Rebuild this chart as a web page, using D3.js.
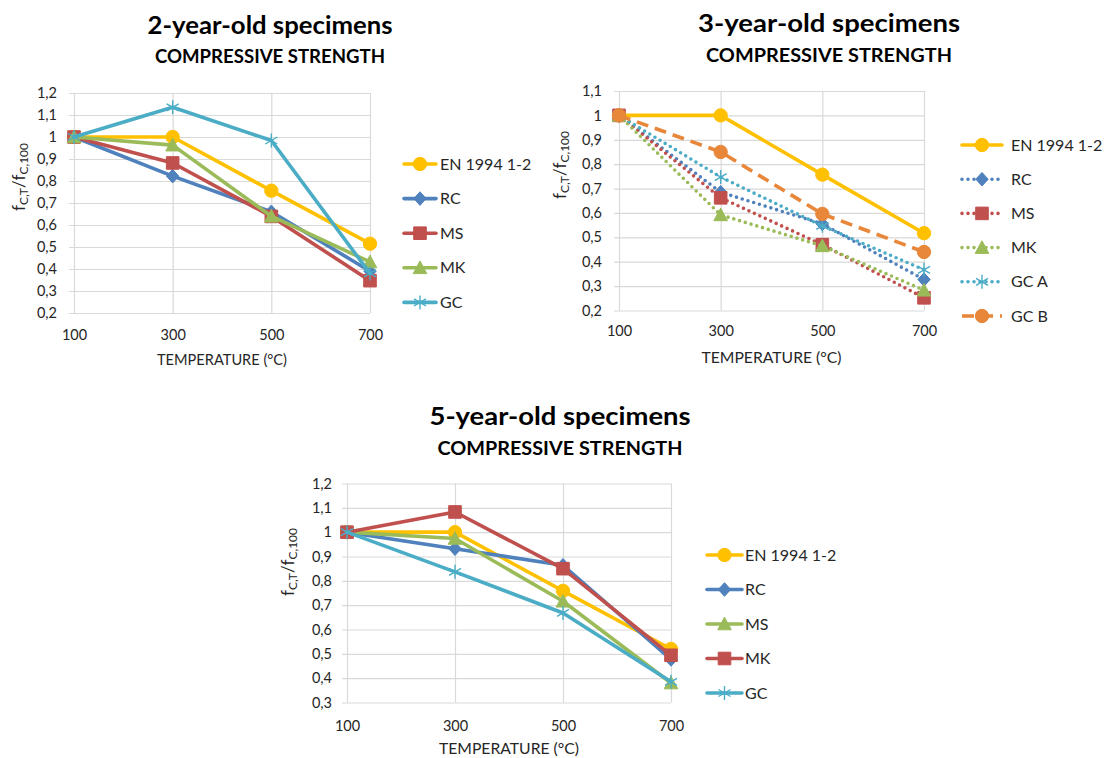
<!DOCTYPE html>
<html>
<head>
<meta charset="utf-8">
<script src="https://cdn.jsdelivr.net/npm/d3@7"></script>
<style>
  html, body { margin: 0; padding: 0; background: #fff; }
  svg { display: block; font-family: Lato, "Open Sans", sans-serif; }
</style>
</head>
<body>
<svg id="chart" width="1112" height="758"></svg>
<script>
// ---------------- DATA ----------------
const temperatures = [100, 300, 500, 700];

const ticks2y = [0.2, 0.3, 0.4, 0.5, 0.6, 0.7, 0.8, 0.9, 1.0, 1.1, 1.2];
const ticks3y = [0.2, 0.3, 0.4, 0.5, 0.6, 0.7, 0.8, 0.9, 1.0, 1.1];
const ticks5y = [0.3, 0.4, 0.5, 0.6, 0.7, 0.8, 0.9, 1.0, 1.1, 1.2];

// 2-year-old specimens
const y2_EN = [1, 1, 0.756, 0.515];
const y2_RC = [1, 0.822, 0.66, 0.39];
const y2_MS = [1, 0.882, 0.639, 0.347];
const y2_MK = [1, 0.963, 0.64, 0.432];
const y2_GC = [1, 1.135, 0.984, 0.38];

// 3-year-old specimens
const y3_EN = [1, 1, 0.757, 0.517];
const y3_RC = [1, 0.685, 0.555, 0.327];
const y3_MS = [1, 0.662, 0.47, 0.252];
const y3_MK = [1, 0.592, 0.465, 0.283];
const y3_GCA = [1, 0.747, 0.547, 0.367];
const y3_GCB = [1, 0.85, 0.596, 0.44];

// 5-year-old specimens
const y5_EN = [1, 1, 0.759, 0.52];
const y5_RC = [1, 0.932, 0.864, 0.477];
const y5_MS = [1, 0.974, 0.716, 0.38];
const y5_MK = [1, 1.083, 0.85, 0.494];
const y5_GC = [1, 0.837, 0.668, 0.385];

const titleMain = ["2-year-old specimens", "3-year-old specimens", "5-year-old specimens"];
const titleSub = "COMPRESSIVE STRENGTH";
const xAxisTitle = "TEMPERATURE (°C)";

// ---------------- STYLE ----------------
const C = {
  yellow: "#FFC000", blue: "#4F81BD", red: "#C0504D", green: "#9BBB59",
  aqua: "#4BACC6", orange: "#E8873A"
};

const charts = [
  {
    title: titleMain[0], ticks: ticks2y, domain: [0.2, 1.2],
    plot: { x0: 74, x1: 370, y0: 93, y1: 313 },
    tX: 270, tY: 34, tLen: 245, tSize: 24, sY: 63, sLen: 230, sSize: 18,
    xPad: 17, xtY: 365, xtLen: 130, yLabX: 25, yLabY: 177, yPad: 12,
    legend: { x0: 404, x1: 436, tx: 440, y: 164, step: 34.6 },
    series: [
      { name: "EN 1994 1-2", values: y2_EN, color: C.yellow, marker: "circle", dash: "solid" },
      { name: "RC", values: y2_RC, color: C.blue, marker: "diamond", dash: "solid" },
      { name: "MS", values: y2_MS, color: C.red, marker: "square", dash: "solid" },
      { name: "MK", values: y2_MK, color: C.green, marker: "triangle", dash: "solid" },
      { name: "GC", values: y2_GC, color: C.aqua, marker: "star", dash: "solid" }
    ]
  },
  {
    title: titleMain[1], ticks: ticks3y, domain: [0.2, 1.1],
    plot: { x0: 619, x1: 924, y0: 91, y1: 310.5 },
    tX: 829, tY: 32, tLen: 262, tSize: 25, sY: 62, sLen: 246, sSize: 19,
    xPad: 15, xtY: 363, xtLen: 140, yLabX: 566, yLabY: 165, yPad: 12,
    legend: { x0: 962, x1: 1002, tx: 1011, y: 145, step: 34.2 },
    series: [
      { name: "EN 1994 1-2", values: y3_EN, color: C.yellow, marker: "circle", dash: "solid" },
      { name: "RC", values: y3_RC, color: C.blue, marker: "diamond", dash: "dot" },
      { name: "MS", values: y3_MS, color: C.red, marker: "square", dash: "dot" },
      { name: "MK", values: y3_MK, color: C.green, marker: "triangle", dash: "dot" },
      { name: "GC A", values: y3_GCA, color: C.aqua, marker: "star", dash: "dot" },
      { name: "GC B", values: y3_GCB, color: C.orange, marker: "circle", dash: "dash" }
    ]
  },
  {
    title: titleMain[2], ticks: ticks5y, domain: [0.3, 1.2],
    plot: { x0: 347, x1: 671, y0: 483.5, y1: 702.5 },
    tX: 560, tY: 425, tLen: 261, tSize: 25, sY: 455, sLen: 245, sSize: 19,
    xPad: 18, xtY: 754, xtLen: 140, yLabX: 294, yLabY: 562, yPad: 10,
    legend: { x0: 707, x1: 742, tx: 745, y: 555, step: 34.5 },
    series: [
      { name: "EN 1994 1-2", values: y5_EN, color: C.yellow, marker: "circle", dash: "solid" },
      { name: "RC", values: y5_RC, color: C.blue, marker: "diamond", dash: "solid" },
      { name: "MS", values: y5_MS, color: C.green, marker: "triangle", dash: "solid" },
      { name: "MK", values: y5_MK, color: C.red, marker: "square", dash: "solid" },
      { name: "GC", values: y5_GC, color: C.aqua, marker: "star", dash: "solid" }
    ]
  }
];

const svg = d3.select("#chart");
const fmt = v => d3.format(".1~f")(v).replace(".", ",");
const GRID = "#D9D9D9";
const TXT = "#262626";

function markerPath(type) {
  switch (type) {
    case "circle": return d3.symbol(d3.symbolCircle, 140)();
    case "square": return "M-6.3,-6.3H6.3V6.3H-6.3Z";
    case "diamond": return "M0,-6.8L6.2,0L0,6.8L-6.2,0Z";
    case "triangle": return "M0,-6.8L6.8,5.8H-6.8Z";
    case "star": return "M0,-7V7M-6,-3.5L6,3.5M-6,3.5L6,-3.5";
  }
}

function styleLine(sel, s) {
  sel.attr("fill", "none").attr("stroke", s.color).attr("stroke-width", 3.6)
     .attr("stroke-linejoin", "round");
  if (s.dash === "dot") sel.attr("stroke-dasharray", "0 6").attr("stroke-linecap", "round").attr("stroke-width", 3.6);
  else if (s.dash === "dash") sel.attr("stroke-dasharray", "12 7").attr("stroke-linecap", "butt");
  else sel.attr("stroke-linecap", "round");
}

function drawMarker(g, s, x, y) {
  const p = g.append("path").attr("d", markerPath(s.marker))
    .attr("transform", `translate(${x},${y})`);
  if (s.marker === "star") p.attr("fill", "none").attr("stroke", s.color).attr("stroke-width", 1.4);
  else p.attr("fill", s.color).attr("stroke", s.color).attr("stroke-width", 1);
}

charts.forEach(cfg => {
  const P = cfg.plot;
  const g = svg.append("g");
  const x = d3.scalePoint().domain(temperatures).range([P.x0, P.x1]);
  const y = d3.scaleLinear().domain(cfg.domain).range([P.y1, P.y0]);
  const w = P.x1 - P.x0, h = P.y1 - P.y0;

  // horizontal gridlines + small ticks
  const gy = g.append("g").attr("transform", `translate(${P.x0},0)`)
    .call(d3.axisLeft(y).tickValues(cfg.ticks).tickSizeInner(-w).tickSizeOuter(0).tickFormat(""));
  gy.select(".domain").remove();
  gy.selectAll("line").attr("stroke", GRID).attr("stroke-width", 1.2).attr("x1", -5);

  // vertical gridlines
  const gx = g.append("g").attr("transform", `translate(0,${P.y1})`)
    .call(d3.axisBottom(x).tickSizeInner(-h).tickSizeOuter(0).tickFormat(""));
  gx.select(".domain").remove();
  gx.selectAll("line").attr("stroke", GRID).attr("stroke-width", 1.2);

  // y tick labels
  const ly = g.append("g").attr("transform", `translate(${P.x0},0)`)
    .call(d3.axisLeft(y).tickValues(cfg.ticks).tickSize(0).tickPadding(cfg.yPad + 5).tickFormat(fmt));
  ly.select(".domain").remove();
  ly.selectAll("text").attr("font-size", 14.5).attr("fill", TXT).attr("font-family", "Lato");

  // x tick labels
  const lx = g.append("g").attr("transform", `translate(0,${P.y1})`)
    .call(d3.axisBottom(x).tickSize(0).tickPadding(cfg.xPad));
  lx.select(".domain").remove();
  lx.selectAll("text").attr("font-size", 14.5).attr("fill", TXT).attr("font-family", "Lato");

  // axis titles
  g.append("text").attr("x", (P.x0 + P.x1) / 2).attr("y", cfg.xtY)
    .attr("text-anchor", "middle").attr("font-size", 15).attr("fill", TXT)
    .attr("textLength", cfg.xtLen).attr("lengthAdjust", "spacingAndGlyphs")
    .text(xAxisTitle);

  const yl = g.append("text")
    .attr("transform", `translate(${cfg.yLabX},${cfg.yLabY}) rotate(-90)`)
    .attr("text-anchor", "middle").attr("font-size", 17).attr("fill", TXT);
  yl.append("tspan").text("f");
  yl.append("tspan").attr("font-size", 12).attr("dy", 3).text("C,T");
  yl.append("tspan").attr("dy", -3).text("/f");
  yl.append("tspan").attr("font-size", 12).attr("dy", 3).text("C,100");

  // titles
  g.append("text").attr("x", cfg.tX).attr("y", cfg.tY).attr("text-anchor", "middle")
    .attr("font-weight", "bold").attr("font-size", cfg.tSize).attr("fill", "#000")
    .attr("textLength", cfg.tLen).attr("lengthAdjust", "spacingAndGlyphs").text(cfg.title);
  g.append("text").attr("x", cfg.tX).attr("y", cfg.sY).attr("text-anchor", "middle")
    .attr("font-weight", "bold").attr("font-size", cfg.sSize).attr("fill", "#000")
    .attr("textLength", cfg.sLen).attr("lengthAdjust", "spacingAndGlyphs").text(titleSub);

  // series
  const line = d3.line().x((d, i) => x(temperatures[i])).y(d => y(d));
  cfg.series.forEach(s => {
    const sg = g.append("g");
    sg.append("path").datum(s.values).attr("d", line).call(styleLine, s);
    s.values.forEach((v, i) => drawMarker(sg, s, x(temperatures[i]), y(v)));
  });

  // legend
  const L = cfg.legend;
  cfg.series.forEach((s, i) => {
    const yy = L.y + i * L.step;
    const lg = g.append("g");
    lg.append("path").attr("d", `M${L.x0},${yy}H${L.x1}`).call(styleLine, s);
    drawMarker(lg, s, (L.x0 + L.x1) / 2, yy);
    lg.append("text").attr("x", L.tx).attr("y", yy).attr("dy", "0.35em")
      .attr("font-size", 16).attr("fill", TXT).text(s.name);
  });
});
</script>
</body>
</html>
